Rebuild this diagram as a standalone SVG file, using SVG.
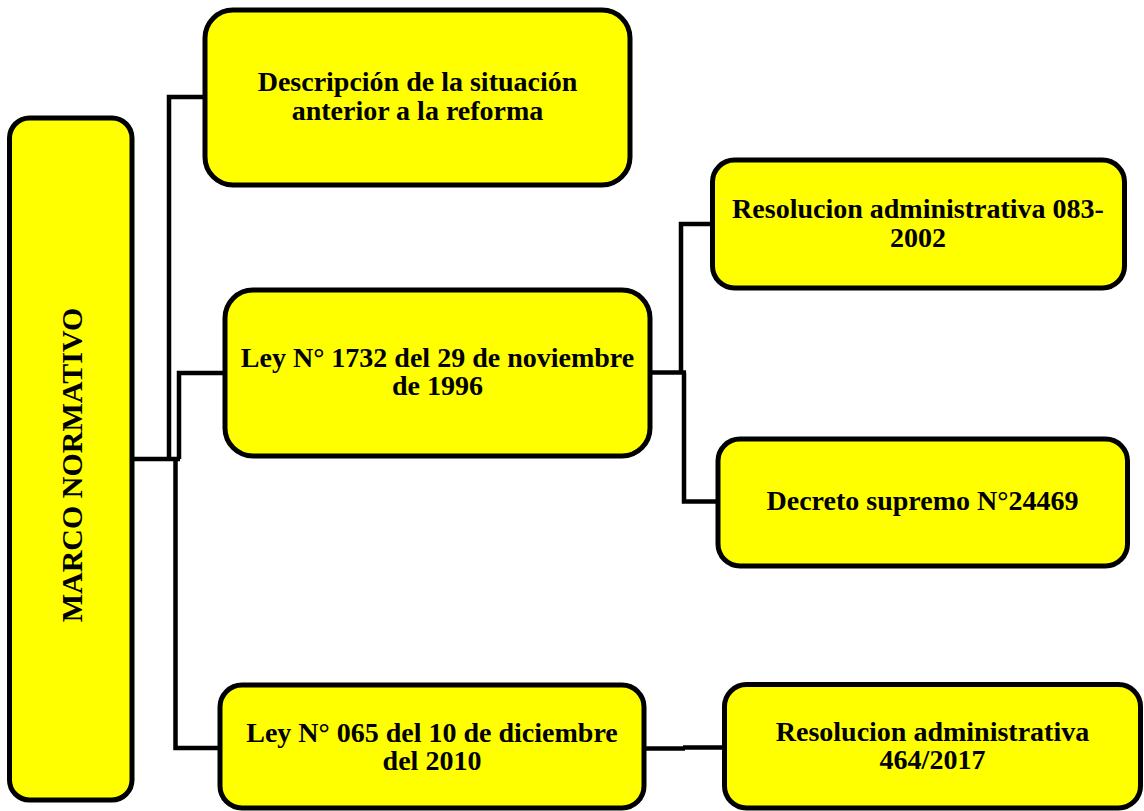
<svg xmlns="http://www.w3.org/2000/svg" width="1144" height="811" viewBox="0 0 1144 811">
<style>
.box{fill:#ffff00;stroke:#000;stroke-width:5}
.lbl{font-family:"Liberation Serif","Times New Roman",serif;font-weight:bold;font-size:28px;fill:#000;text-anchor:middle}
.con{fill:none;stroke:#000;stroke-width:4.5;stroke-linejoin:miter}
</style>
<rect width="1144" height="811" fill="#fff"/>
<g id="connectors">
<path class="con" d="M132 459 H180"/>
<path class="con" d="M169 459 V97 H205"/>
<path class="con" d="M179 459 V373 H225"/>
<path class="con" d="M175.5 457 V748 H220"/>
<path class="con" d="M650 372.5 H686"/>
<path class="con" d="M681 372.5 V224 H712"/>
<path class="con" d="M684 372.5 V501.5 H718"/>
<path class="con" d="M644 748.5 H685"/>
<path class="con" d="M683 747.5 H724"/>
</g>
<g id="marco">
<rect class="box" x="9.5" y="118" width="122.5" height="682" rx="20"/>
<text class="lbl" style="font-size:30px" transform="translate(82 465) rotate(-90)" x="0" y="0">MARCO NORMATIVO</text>
</g>
<g id="descripcion">
<rect class="box" x="205" y="10" width="425" height="175" rx="28"/>
<text class="lbl" x="417.5" y="91">Descripción de la situación</text>
<text class="lbl" x="417.5" y="119.5">anterior a la reforma</text>
</g>
<g id="ley1732">
<rect class="box" x="225" y="290" width="425" height="166" rx="28"/>
<text class="lbl" x="437.5" y="367">Ley N° 1732 del 29 de noviembre</text>
<text class="lbl" x="437.5" y="395">de 1996</text>
</g>
<g id="res083">
<rect class="box" x="712.5" y="160" width="412" height="128" rx="22"/>
<text class="lbl" x="918" y="218">Resolucion administrativa 083-</text>
<text class="lbl" x="918" y="246.5">2002</text>
</g>
<g id="decreto">
<rect class="box" x="718" y="439" width="409.5" height="127" rx="22"/>
<text class="lbl" x="922.5" y="510">Decreto supremo N°24469</text>
</g>
<g id="ley065">
<rect class="box" x="220" y="685" width="424" height="123" rx="22"/>
<text class="lbl" x="432" y="742">Ley N° 065 del 10 de diciembre</text>
<text class="lbl" x="432" y="770">del 2010</text>
</g>
<g id="res464">
<rect class="box" x="724.5" y="684.5" width="416" height="123.5" rx="22"/>
<text class="lbl" x="932.5" y="741">Resolucion administrativa</text>
<text class="lbl" x="932.5" y="769">464/2017</text>
</g>
</svg>
